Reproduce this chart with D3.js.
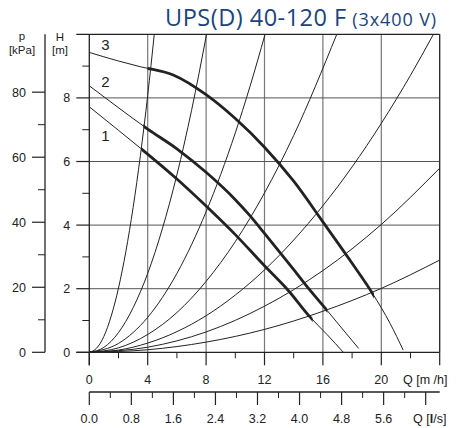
<!DOCTYPE html>
<html><head><meta charset="utf-8">
<script src="https://cdn.jsdelivr.net/npm/d3@7"></script>
<style>
html,body{margin:0;padding:0;background:#fff;}
svg{display:block;}
text{font-family:"Liberation Sans",Arial,Helvetica,sans-serif;fill:#222;}
</style></head>
<body>
<svg id="chart" width="466" height="428"></svg>
<script>
// ---------- data ----------
const titleMain = "UPS(D) 40-120 F";
const titleSub = "(3x400 V)";
const qTicks = [0, 4, 8, 12, 16, 20];
const qMinorTicks = [2, 6, 10, 14, 18, 22];
const lsTicks = [0.0, 0.8, 1.6, 2.4, 3.2, 4.0, 4.8, 5.6];
const lsMinorTicks = [0.4, 1.2, 2.0, 2.8, 3.6, 4.4, 5.2, 6.0];
const lsUnlabeledMajor = [6.4];
const hTicks = [0, 2, 4, 6, 8];
const hMinorTicks = [1, 3, 5, 7, 9];
const pTicks = [0, 20, 40, 60, 80];
const pMinorTicks = [10, 30, 50, 70];
const qMax = 24, hMax = 10, pMax = 97.8, lsMax = 24 / 3.6;

// pump curves 1..3  (Q m3/h, H m)
const pump1Q = [0, 2, 3.5, 6, 8, 10, 12, 13.6, 15.1, 16.3, 17.4];
const pump1H = [7.72, 6.98, 6.42, 5.45, 4.6, 3.7, 2.72, 1.96, 1.12, 0.55, 0.0];
const pump2Q = [0, 2, 4, 6, 8, 10, 11, 12, 13.3, 14, 15.1, 16.3, 17.4, 18.45];
const pump2H = [8.38, 7.69, 7.02, 6.4, 5.66, 4.8, 4.3, 3.74, 3.0, 2.6, 1.96, 1.31, 0.7, 0.12];
const pump3Q = [0, 2, 3.5, 5.75, 8, 10, 12, 14, 16, 18, 19.4, 20.6, 21.5];
const pump3H = [9.43, 9.16, 8.98, 8.72, 8.1, 7.35, 6.45, 5.38, 4.1, 2.8, 1.85, 0.91, 0.07];
const pumpLabels = ["1", "2", "3"];
const pumpThickFrom = [3.55, 3.7, 4.0];
const pumpThickTo = [15.3, 16.3, 19.5];
const pumpLabelQ = [1.1, 1.1, 1.1];
const pumpLabelH = [6.64, 8.35, 9.5];

// system curves (Q m3/h, H m)
const sys1Q = [0, 0.5, 1, 1.5, 2, 2.5, 3, 3.5, 4, 4.45];
const sys1H = [0, 0.13, 0.5, 1.14, 2.02, 3.16, 4.55, 6.19, 8.08, 10.0];
const sys2Q = [0, 1, 2, 3, 4, 5, 6, 7, 8.03];
const sys2H = [0, 0.155, 0.62, 1.4, 2.48, 3.88, 5.58, 7.6, 10.0];
const sys3Q = [0, 2, 4, 6, 8, 10, 11, 12.04];
const sys3H = [0, 0.28, 1.1, 2.48, 4.42, 6.9, 8.35, 10.0];
const sys4Q = [0, 2, 4, 6, 8, 10, 12, 14, 16.95];
const sys4H = [0, 0.14, 0.56, 1.25, 2.23, 3.48, 5.01, 6.82, 10.0];
const sys5Q = [0, 2, 4, 6, 8, 10, 12, 14, 16, 18, 20, 22, 23.57];
const sys5H = [0, 0.07, 0.29, 0.65, 1.15, 1.8, 2.59, 3.53, 4.61, 5.83, 7.2, 8.71, 10.0];
const sys6Q = [0, 4, 8, 12, 16, 20, 24];
const sys6H = [0, 0.16, 0.64, 1.45, 2.57, 4.02, 5.79];
const sys7Q = [0, 4, 8, 12, 16, 20, 24];
const sys7H = [0, 0.08, 0.32, 0.72, 1.29, 2.01, 2.9];

// ---------- drawing ----------
const svg = d3.select("#chart");
const x = d3.scaleLinear().domain([0, qMax]).range([89.3, 439.7]);
const xl = d3.scaleLinear().domain([0, lsMax]).range([89.3, 439.7]);
const y = d3.scaleLinear().domain([0, hMax]).range([352.3, 34.3]);
const yp = d3.scaleLinear().domain([0, pMax]).range([352.3, 34.3]);
const ink = "#222";

// title
const title = svg.append("text").attr("x", 437).attr("y", 25.5).attr("text-anchor", "end")
  .style("font-family", "'Open Sans','Noto Sans',sans-serif").style("fill", "#1a4480");
title.append("tspan").text(titleMain).style("font-size", "23.5px").style("letter-spacing", "0.5px");
title.append("tspan").text(" " + titleSub).style("font-size", "18px").style("letter-spacing", "0.9px");

// grid
const grid = svg.append("g");
grid.selectAll("line.v").data(qTicks.filter(d => d > 0)).enter().append("line")
  .attr("x1", d => x(d)).attr("x2", d => x(d)).attr("y1", y(0)).attr("y2", y(hMax))
  .attr("stroke", "#777").attr("stroke-width", 1.2);
grid.selectAll("line.h").data(hTicks.filter(d => d > 0)).enter().append("line")
  .attr("x1", x(0)).attr("x2", x(qMax)).attr("y1", d => y(d)).attr("y2", d => y(d))
  .attr("stroke", "#555").attr("stroke-width", 1);
// frame top & right
svg.append("line").attr("x1", x(0) - 13).attr("x2", x(qMax)).attr("y1", y(hMax)).attr("y2", y(hMax)).attr("stroke", ink).attr("stroke-width", 1.3);
svg.append("line").attr("x1", x(qMax)).attr("x2", x(qMax)).attr("y1", y(hMax)).attr("y2", y(0)).attr("stroke", ink).attr("stroke-width", 1.3);

// H axis
const hAxis = svg.append("g");
hAxis.append("line").attr("x1", x(0)).attr("x2", x(0)).attr("y1", y(hMax)).attr("y2", y(0) + 13).attr("stroke", ink).attr("stroke-width", 1.3);
hAxis.selectAll("line.mj").data(hTicks).enter().append("line")
  .attr("x1", x(0) - 13).attr("x2", x(0)).attr("y1", d => y(d)).attr("y2", d => y(d)).attr("stroke", ink).attr("stroke-width", 1.2);
hAxis.selectAll("line.mn").data(hMinorTicks).enter().append("line")
  .attr("x1", x(0) - 7).attr("x2", x(0)).attr("y1", d => y(d)).attr("y2", d => y(d)).attr("stroke", ink).attr("stroke-width", 1);
hAxis.selectAll("text").data(hTicks).enter().append("text")
  .attr("x", x(0) - 19).attr("y", d => y(d) + 4.5).attr("text-anchor", "end").style("font-size", "12.5px").text(d => d);
svg.append("text").attr("x", 60).attr("y", 40.5).attr("text-anchor", "middle").style("font-size", "11.5px").text("H");
svg.append("text").attr("x", 60).attr("y", 53.5).attr("text-anchor", "middle").style("font-size", "11.5px").text("[m]");

// p axis
const pAxis = svg.append("g");
pAxis.append("line").attr("x1", 45).attr("x2", 45).attr("y1", yp(pMax)).attr("y2", yp(0)).attr("stroke", ink).attr("stroke-width", 1.3);
pAxis.selectAll("line.mj").data(pTicks).enter().append("line")
  .attr("x1", 32).attr("x2", 45).attr("y1", d => yp(d)).attr("y2", d => yp(d)).attr("stroke", ink).attr("stroke-width", 1.2);
pAxis.selectAll("line.mn").data(pMinorTicks).enter().append("line")
  .attr("x1", 38).attr("x2", 45).attr("y1", d => yp(d)).attr("y2", d => yp(d)).attr("stroke", ink).attr("stroke-width", 1);
pAxis.selectAll("text").data(pTicks).enter().append("text")
  .attr("x", 26).attr("y", d => yp(d) + 4.5).attr("text-anchor", "end").style("font-size", "12.5px").text(d => d);
svg.append("text").attr("x", 22).attr("y", 40).attr("text-anchor", "middle").style("font-size", "11.5px").text("p");
svg.append("text").attr("x", 22).attr("y", 53.5).attr("text-anchor", "middle").style("font-size", "11.5px").text("[kPa]");

// Q axis (m3/h)
const qAxis = svg.append("g");
qAxis.append("line").attr("x1", x(0) - 13).attr("x2", x(qMax)).attr("y1", y(0)).attr("y2", y(0)).attr("stroke", ink).attr("stroke-width", 1.3);
qAxis.selectAll("line.mj").data(qTicks.concat([qMax])).enter().append("line")
  .attr("x1", d => x(d)).attr("x2", d => x(d)).attr("y1", y(0)).attr("y2", y(0) + 13).attr("stroke", ink).attr("stroke-width", 1.2);
qAxis.selectAll("line.mn").data(qMinorTicks).enter().append("line")
  .attr("x1", d => x(d)).attr("x2", d => x(d)).attr("y1", y(0)).attr("y2", y(0) + 6).attr("stroke", ink).attr("stroke-width", 1);
qAxis.selectAll("text").data(qTicks).enter().append("text")
  .attr("x", d => x(d)).attr("y", 384).attr("text-anchor", "middle").style("font-size", "12.5px").text(d => d);
svg.append("text").attr("x", 403).attr("y", 384).style("font-size", "12.5px").text("Q [m /h]");

// Q axis (l/s)
const lAxis = svg.append("g");
lAxis.append("line").attr("x1", xl(0)).attr("x2", xl(lsMax)).attr("y1", 392).attr("y2", 392).attr("stroke", ink).attr("stroke-width", 1.3);
lAxis.selectAll("line.mj").data(lsTicks.concat(lsUnlabeledMajor)).enter().append("line")
  .attr("x1", d => xl(d)).attr("x2", d => xl(d)).attr("y1", 392).attr("y2", 405).attr("stroke", ink).attr("stroke-width", 1.2);
lAxis.selectAll("line.mn").data(lsMinorTicks).enter().append("line")
  .attr("x1", d => xl(d)).attr("x2", d => xl(d)).attr("y1", 392).attr("y2", 398).attr("stroke", ink).attr("stroke-width", 1);
lAxis.selectAll("text").data(lsTicks).enter().append("text")
  .attr("x", d => xl(d)).attr("y", 423).attr("text-anchor", "middle").style("font-size", "12.5px").text(d => d.toFixed(1));
const ql = svg.append("text").attr("x", 413).attr("y", 423).style("font-size", "12.5px");
ql.append("tspan").text("Q [");
ql.append("tspan").text("l").style("font-weight", "bold");
ql.append("tspan").text("/s]");

// system curves
const line = d3.line().x(d => x(d[0])).y(d => y(d[1])).curve(d3.curveMonotoneX);
const sysSets = [[sys1Q, sys1H], [sys2Q, sys2H], [sys3Q, sys3H], [sys4Q, sys4H], [sys5Q, sys5H], [sys6Q, sys6H], [sys7Q, sys7H]];
svg.append("g").selectAll("path").data(sysSets).enter().append("path")
  .attr("d", s => line(s[0].map((q, i) => [q, s[1][i]])))
  .attr("fill", "none").attr("stroke", ink).attr("stroke-width", 1);

// pump curves
const pumpSets = [[pump1Q, pump1H], [pump2Q, pump2H], [pump3Q, pump3H]];
const defs = svg.append("defs");
pumpSets.forEach((s, i) => {
  const pts = s[0].map((q, j) => [q, s[1][j]]);
  const cid = "clip" + i;
  defs.append("clipPath").attr("id", cid).append("rect")
    .attr("x", x(pumpThickFrom[i])).attr("width", x(pumpThickTo[i]) - x(pumpThickFrom[i]))
    .attr("y", 0).attr("height", 428);
  svg.append("path").attr("d", line(pts)).attr("fill", "none").attr("stroke", ink).attr("stroke-width", 1);
  svg.append("path").attr("d", line(pts)).attr("fill", "none").attr("stroke", ink).attr("stroke-width", 2.8)
    .attr("clip-path", "url(#" + cid + ")");
  svg.append("text").attr("x", x(pumpLabelQ[i])).attr("y", y(pumpLabelH[i])).attr("text-anchor", "middle")
    .style("font-size", "15px").text(pumpLabels[i]);
});
</script>
</body></html>
